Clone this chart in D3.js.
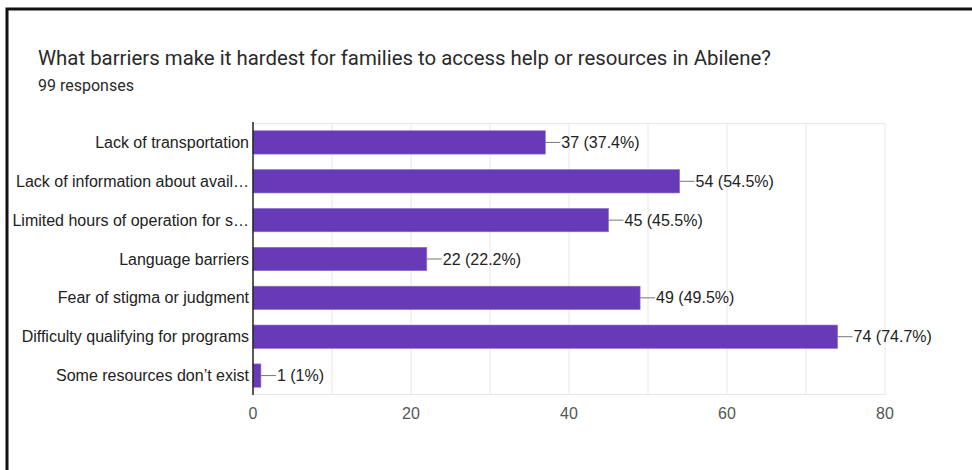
<!DOCTYPE html>
<meta charset="utf-8">
<style type="text/css">
body {
    margin: 0;
    background: #fff;
    overflow: hidden;
}

svg {
    display: block;
}

.frame {
    fill: none;
    stroke: #111;
    stroke-width: 3;
}

.title {
    font-family: Roboto, sans-serif;
    font-size: 20.4px;
    fill: #2a2a2a;
}

.subtitle {
    font-family: Roboto, sans-serif;
    font-size: 16px;
    fill: #2a2a2a;
}

.cat, .val, .tick-label {
    font-family: 'Liberation Sans', Arial, sans-serif;
    font-size: 16px;
}

.cat { fill: #222; }
.val { fill: #222; }
.tick-label { fill: #555; }
</style>

<body>
    <script src="https://d3js.org/d3.v7.min.js"></script>
    <script>
    var categories = [
        "Lack of transportation",
        "Lack of information about avail\u2026",
        "Limited hours of operation for s\u2026",
        "Language barriers",
        "Fear of stigma or judgment",
        "Difficulty qualifying for programs",
        "Some resources don\u2019t exist"
    ]
    var counts = [37, 54, 45, 22, 49, 74, 1]
    var percents = ["37.4%", "54.5%", "45.5%", "22.2%", "49.5%", "74.7%", "1%"]
    var xTicks = [0, 20, 40, 60, 80]
    var gridTicks = [10, 20, 30, 40, 50, 60, 70, 80]

    var width = 972
    var height = 470
    var plotLeft = 253, plotRight = 885, plotTop = 123, plotBottom = 395

    var svg = d3.select('body').append('svg')
        .attr('width', width)
        .attr('height', height)

    // screenshot frame: only the left and top edges show
    var frame = d3.path()
    frame.moveTo(7, height)
    frame.lineTo(7, 9)
    frame.lineTo(width, 9)
    svg.append('path')
        .attr('class', 'frame')
        .attr('d', frame.toString())

    svg.append('text')
        .attr('class', 'title')
        .attr('x', 38)
        .attr('y', 65)
        .text("What barriers make it hardest for families to access help or resources in Abilene?")

    svg.append('text')
        .attr('class', 'subtitle')
        .attr('x', 38)
        .attr('y', 91)
        .text("99 responses")

    var x = d3.scaleLinear().domain([0, 80]).range([plotLeft, plotRight])
    var y = d3.scaleBand().domain(categories).range([plotTop, plotBottom]).paddingInner(0.4).paddingOuter(0.2)

    // grid
    svg.selectAll('.grid')
        .data(gridTicks)
        .enter()
        .append('line')
        .attr('class', 'grid')
        .attr('x1', d => x(d))
        .attr('x2', d => x(d))
        .attr('y1', plotTop)
        .attr('y2', plotBottom)
        .attr('stroke', '#e8e8e8')

    svg.append('line')
        .attr('x1', plotLeft).attr('x2', plotRight)
        .attr('y1', plotTop + 0.5).attr('y2', plotTop + 0.5)
        .attr('stroke', '#e8e8e8')
    svg.append('line')
        .attr('x1', plotLeft).attr('x2', plotRight)
        .attr('y1', plotBottom - 0.5).attr('y2', plotBottom - 0.5)
        .attr('stroke', '#e8e8e8')

    svg.selectAll('.bar')
        .data(counts)
        .enter()
        .append('rect')
        .attr('class', 'bar')
        .attr('x', x(0))
        .attr('y', (d, i) => y(categories[i]))
        .attr('width', d => x(d) - x(0))
        .attr('height', y.bandwidth())
        .attr('fill', '#673ab7')
        .attr('stroke', '#8c6cd0')
        .attr('stroke-width', 0.6)

    // leader lines + value labels
    svg.selectAll('.leader')
        .data(counts)
        .enter()
        .append('line')
        .attr('class', 'leader')
        .attr('x1', d => x(d))
        .attr('x2', d => x(d) + 15)
        .attr('y1', (d, i) => y(categories[i]) + y.bandwidth() / 2)
        .attr('y2', (d, i) => y(categories[i]) + y.bandwidth() / 2)
        .attr('stroke', '#777')

    svg.selectAll('.val')
        .data(counts)
        .enter()
        .append('text')
        .attr('class', 'val')
        .attr('x', d => x(d) + 16)
        .attr('y', (d, i) => y(categories[i]) + y.bandwidth() / 2)
        .attr('dy', '0.35em')
        .text((d, i) => d + " (" + percents[i] + ")")

    svg.selectAll('.cat')
        .data(categories)
        .enter()
        .append('text')
        .attr('class', 'cat')
        .attr('x', plotLeft - 4)
        .attr('y', d => y(d) + y.bandwidth() / 2)
        .attr('dy', '0.35em')
        .attr('text-anchor', 'end')
        .text(d => d)

    svg.selectAll('.tick-label')
        .data(xTicks)
        .enter()
        .append('text')
        .attr('class', 'tick-label')
        .attr('x', d => x(d))
        .attr('y', 419)
        .attr('text-anchor', 'middle')
        .text(d => d)

    // vertical baseline
    svg.append('line')
        .attr('x1', plotLeft).attr('x2', plotLeft)
        .attr('y1', plotTop - 1).attr('y2', plotBottom)
        .attr('stroke', '#222')
        .attr('stroke-width', 1.5)
    </script>
</body>
